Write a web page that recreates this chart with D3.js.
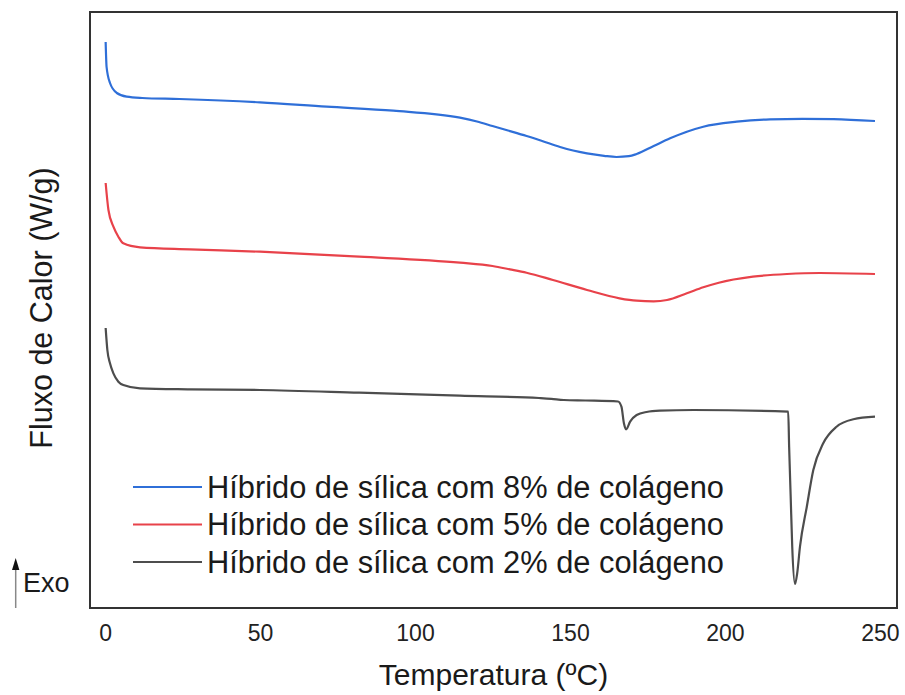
<!DOCTYPE html>
<html><head><meta charset="utf-8">
<script src="https://cdn.jsdelivr.net/npm/d3@7"></script>
<style>
html,body{margin:0;padding:0;background:#fff;}
svg{display:block;font-family:"Liberation Sans",Arial,Helvetica,sans-serif;}
</style></head>
<body>
<svg id="chart" width="905" height="695"></svg>
<script>
// Temperature (ºC) and heat-flow values (arbitrary units, curves offset)
const temp8 = [0.2,0.5,1.6,3.8,7,12,24,50,71.5,93,114.5,120,125,130,136,141,146.8,151,155.5,161,165,169,171.5,177,182.3,193,203.8,214.5,225,235,248.4];
const flow8 = [56.8,54.3,52.7,51.7,51.33,51.2,51.1,50.77,50.33,49.93,49.23,48.85,48.4,47.95,47.4,46.9,46.3,45.95,45.67,45.42,45.3,45.38,45.6,46.4,47.17,48.33,48.83,49.07,49.12,49.08,48.9];

const temp5 = [0.2,1.1,2.7,4.3,5.9,11.3,27.4,50,82,114.5,125,130.6,136,144.5,155.5,166,171.5,177,181.3,187.7,193,198,209,220,230.6,248.4];
const flow5 = [42.7,40.0,38.33,37.33,36.67,36.27,36.07,35.83,35.33,34.73,34.4,34.07,33.73,33.0,32.0,31.17,30.93,30.87,31.0,31.67,32.27,32.73,33.33,33.6,33.7,33.6];

const temp2 = [0.2,0.75,1.6,2.7,4.3,5.9,11.3,27.4,50,82,114.5,140,144,148,155,165.5,166.6,167.4,168.1,169.4,171.5,174.7,179,189.8,220.4,220.7,221.2,221.7,222.6,223.3,224.2,226.4,228.5,231.7,236,241.4,248.4];
const flow2 = [28.2,26.0,24.67,23.67,22.83,22.5,22.17,22.07,22.0,21.73,21.43,21.2,21.12,21.0,20.95,20.85,20.33,18.67,18.07,18.83,19.5,19.8,19.93,20.0,19.83,16.33,11.33,6.33,2.6,3.67,6.33,10.33,14.0,16.67,18.33,19.07,19.33];

const seriesNames = ["Híbrido de sílica com 8% de colágeno","Híbrido de sílica com 5% de colágeno","Híbrido de sílica com 2% de colágeno"];
const seriesColors = ["#2f6fd8","#e8424a","#4d4d4d"];
const xTicks = [0,50,100,150,200,250];
const xTitle = "Temperatura (ºC)";
const yTitle = "Fluxo de Calor (W/g)";
const exoLabel = "Exo";

const series = [
  {name: seriesNames[0], color: seriesColors[0], pts: temp8.map((t,i)=>[t,flow8[i]])},
  {name: seriesNames[1], color: seriesColors[1], pts: temp5.map((t,i)=>[t,flow5[i]])},
  {name: seriesNames[2], color: seriesColors[2], pts: temp2.map((t,i)=>[t,flow2[i]])}
];

const svg = d3.select("#chart");
const plot = {left: 90, right: 897, top: 12, bottom: 608};

const x = d3.scaleLinear().domain([-4.85, 255.5]).range([plot.left, plot.right]);
const y = d3.scaleLinear().domain([0, 60]).range([610, 10]);

// frame
svg.append("rect")
  .attr("x", plot.left).attr("y", plot.top)
  .attr("width", plot.right - plot.left).attr("height", plot.bottom - plot.top)
  .attr("fill", "none").attr("stroke", "#333").attr("stroke-width", 2);

// x axis (labels only)
const xAxis = svg.append("g").attr("transform", `translate(0,${plot.bottom})`)
  .call(d3.axisBottom(x).tickValues(xTicks).tickSize(0).tickPadding(17).tickFormat(d3.format("d")));
xAxis.select(".domain").remove();
xAxis.selectAll("text").attr("font-size", 23).attr("fill", "#222")
  .attr("font-family", "'Liberation Sans',Arial,sans-serif");

// curves
const line = d3.line().x(d => x(d[0])).y(d => y(d[1])).curve(d3.curveMonotoneX);
svg.append("g").selectAll("path").data(series).join("path")
  .attr("d", d => line(d.pts))
  .attr("fill", "none").attr("stroke", d => d.color).attr("stroke-width", 2.2)
  .attr("stroke-linejoin", "round");

// legend
const legend = svg.append("g");
const legY = [487, 524.5, 562];
series.forEach((s, i) => {
  legend.append("line").attr("x1", 133).attr("x2", 202).attr("y1", legY[i]).attr("y2", legY[i])
    .attr("stroke", s.color).attr("stroke-width", 2.2);
  legend.append("text").attr("x", 207).attr("y", legY[i] + 10.6)
    .attr("font-size", 30.8).attr("fill", "#1a1a1a").text(s.name);
});

// axis titles
svg.append("text").attr("x", (plot.left + plot.right) / 2).attr("y", 685)
  .attr("text-anchor", "middle").attr("font-size", 30).attr("fill", "#1a1a1a").text(xTitle);
svg.append("text").attr("transform", "translate(52,308) rotate(-90)")
  .attr("text-anchor", "middle").attr("font-size", 30.5).attr("fill", "#1a1a1a").text(yTitle);

// Exo arrow
svg.append("line").attr("x1", 15.7).attr("x2", 15.7).attr("y1", 566).attr("y2", 608)
  .attr("stroke", "#888").attr("stroke-width", 1.5);
svg.append("path").attr("d", `M15.7,558 L12,570 L19.4,570 Z`).attr("fill", "#111");
svg.append("text").attr("x", 23).attr("y", 592).attr("font-size", 27).attr("fill", "#1a1a1a").text(exoLabel);
</script>
</body></html>
